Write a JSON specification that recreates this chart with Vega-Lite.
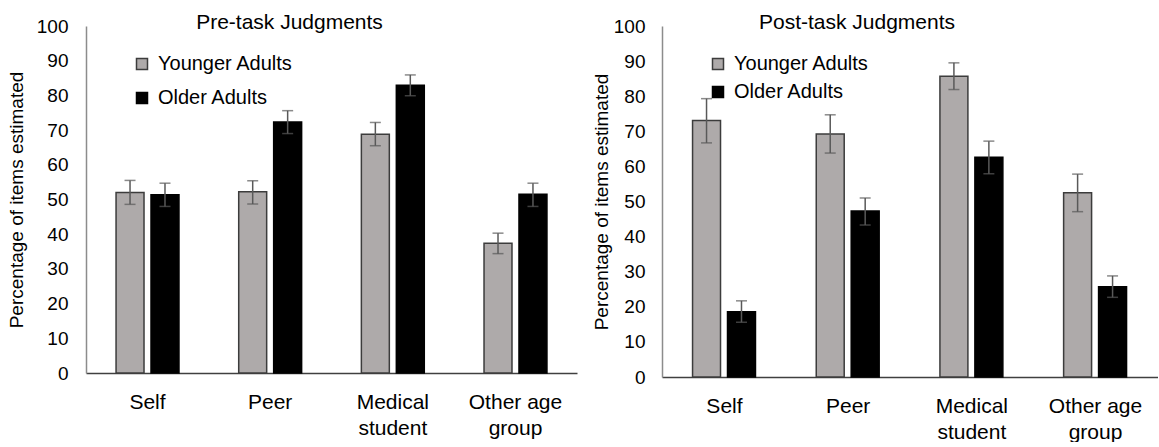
{
  "$schema": "https://vega.github.io/schema/vega-lite/v6.json",
  "padding": {"left": 7, "top": 12, "right": 0, "bottom": 0},
  "spacing": 15,
  "config": {
    "font": "Liberation Sans",
    "view": {"stroke": null},
    "title": {"fontSize": 21, "fontWeight": "normal", "color": "#000000"},
    "axisY": {
      "labelOverlap": false,
      "grid": false,
      "ticks": false,
      "domainColor": "#8c8c8c",
      "domainWidth": 1.5,
      "labelFontSize": 19,
      "labelColor": "#000000",
      "labelPadding": 18,
      "titleFontSize": 19,
      "titleFontWeight": "normal",
      "titleColor": "#000000"
    }
  },
  "data": {
    "values": [
      {"phase": "Pre-task", "target": "Self", "group": "Younger Adults", "value": 52.0, "lo": 48.6, "hi": 55.5},
      {"phase": "Pre-task", "target": "Self", "group": "Older Adults", "value": 51.4, "lo": 48.0, "hi": 54.7},
      {"phase": "Pre-task", "target": "Peer", "group": "Younger Adults", "value": 52.2, "lo": 48.7, "hi": 55.4},
      {"phase": "Pre-task", "target": "Peer", "group": "Older Adults", "value": 72.3, "lo": 69.0, "hi": 75.6},
      {"phase": "Pre-task", "target": "Medical student", "group": "Younger Adults", "value": 68.8, "lo": 65.5, "hi": 72.2},
      {"phase": "Pre-task", "target": "Medical student", "group": "Older Adults", "value": 82.9, "lo": 79.9, "hi": 85.9},
      {"phase": "Pre-task", "target": "Other age group", "group": "Younger Adults", "value": 37.4, "lo": 34.4, "hi": 40.3},
      {"phase": "Pre-task", "target": "Other age group", "group": "Older Adults", "value": 51.5, "lo": 48.0, "hi": 54.7},
      {"phase": "Post-task", "target": "Self", "group": "Younger Adults", "value": 73.1, "lo": 66.7, "hi": 79.3},
      {"phase": "Post-task", "target": "Self", "group": "Older Adults", "value": 18.6, "lo": 15.6, "hi": 21.7},
      {"phase": "Post-task", "target": "Peer", "group": "Younger Adults", "value": 69.2, "lo": 63.8, "hi": 74.7},
      {"phase": "Post-task", "target": "Peer", "group": "Older Adults", "value": 47.3, "lo": 43.3, "hi": 51.0},
      {"phase": "Post-task", "target": "Medical student", "group": "Younger Adults", "value": 85.7, "lo": 81.9, "hi": 89.5},
      {"phase": "Post-task", "target": "Medical student", "group": "Older Adults", "value": 62.6, "lo": 57.9, "hi": 67.2},
      {"phase": "Post-task", "target": "Other age group", "group": "Younger Adults", "value": 52.5, "lo": 47.1, "hi": 57.8},
      {"phase": "Post-task", "target": "Other age group", "group": "Older Adults", "value": 25.7, "lo": 22.7, "hi": 28.8}
    ]
  },
  "resolve": {
    "scale": {"fill": "independent", "stroke": "independent"},
    "legend": {"fill": "independent", "stroke": "independent"}
  },
  "hconcat": [
    {
      "width": 491,
      "height": 347,
      "title": {"text": "Pre-task Judgments", "offset": -16, "dx": -42},
      "transform": [{"filter": "datum.phase == 'Pre-task'"}],
      "resolve": {"axis": {"y": "independent"}},
      "encoding": {
        "x": {
          "field": "target", "type": "nominal",
          "sort": ["Self", "Peer", "Medical student", "Other age group"],
          "scale": {"paddingInner": 0.487, "paddingOuter": 0.245},
          "axis": {
            "title": null, "labelAngle": 0, "ticks": false,
            "domainColor": "#404040", "domainWidth": 1.5,
            "labelFontSize": 21, "labelColor": "#000000", "labelPadding": 18, "labelLineHeight": 26,
            "labelExpr": "datum.label == 'Medical student' ? ['Medical', 'student'] : datum.label == 'Other age group' ? ['Other age', 'group'] : datum.label"
          }
        },
        "xOffset": {
          "field": "group", "type": "nominal",
          "sort": ["Younger Adults", "Older Adults"],
          "scale": {"paddingInner": 0.2, "paddingOuter": 0}
        }
      },
      "layer": [
        {
          "mark": {"type": "bar", "strokeWidth": 1.5},
          "encoding": {
            "y": {
              "field": "value", "type": "quantitative",
              "scale": {"domain": [0, 100], "nice": false},
              "axis": {
                "values": [0, 10, 20, 30, 40, 50, 60, 70, 80, 90, 100], "labelOverlap": false,
                "title": "Percentage of items estimated", "titlePadding": 10
              }
            },
            "fill": {
              "field": "group", "type": "nominal",
              "scale": {"domain": ["Younger Adults", "Older Adults"], "range": ["#aeaaaa", "#000000"]},
              "legend": {
                "title": null, "orient": "none", "legendX": 46, "legendY": 28, "padding": 0,
                "symbolType": "square", "symbolSize": 121, "symbolStrokeWidth": 1.5,
                "labelFontSize": 20, "labelColor": "#000000", "labelOffset": 6, "rowPadding": 14
              }
            },
            "stroke": {
              "field": "group", "type": "nominal",
              "scale": {"domain": ["Younger Adults", "Older Adults"], "range": ["#3c3c3c", "#000000"]},
              "legend": {
                "title": null, "orient": "none", "legendX": 46, "legendY": 28, "padding": 0,
                "symbolType": "square", "symbolSize": 121, "symbolStrokeWidth": 1.5,
                "labelFontSize": 20, "labelColor": "#000000", "labelOffset": 6, "rowPadding": 14
              }
            }
          }
        },
        {
          "mark": {"type": "rule", "color": "#595959", "strokeWidth": 1.5},
          "encoding": {
            "y": {"field": "lo", "type": "quantitative", "axis": null},
            "y2": {"field": "hi"}
          }
        },
        {
          "mark": {"type": "tick", "orient": "horizontal", "color": "#595959", "size": 11, "thickness": 1.5},
          "encoding": {"y": {"field": "hi", "type": "quantitative", "axis": null}}
        },
        {
          "mark": {"type": "tick", "orient": "horizontal", "color": "#595959", "size": 11, "thickness": 1.5},
          "encoding": {"y": {"field": "lo", "type": "quantitative", "axis": null}}
        }
      ]
    },
    {
      "width": 496,
      "height": 351,
      "title": {"text": "Post-task Judgments", "offset": -16, "dx": -53},
      "transform": [{"filter": "datum.phase == 'Post-task'"}],
      "resolve": {"axis": {"y": "independent"}},
      "encoding": {
        "x": {
          "field": "target", "type": "nominal",
          "sort": ["Self", "Peer", "Medical student", "Other age group"],
          "scale": {"paddingInner": 0.484, "paddingOuter": 0.247},
          "axis": {
            "title": null, "labelAngle": 0, "ticks": false,
            "domainColor": "#404040", "domainWidth": 1.5,
            "labelFontSize": 21, "labelColor": "#000000", "labelPadding": 18, "labelLineHeight": 26,
            "labelExpr": "datum.label == 'Medical student' ? ['Medical', 'student'] : datum.label == 'Other age group' ? ['Other age', 'group'] : datum.label"
          }
        },
        "xOffset": {
          "field": "group", "type": "nominal",
          "sort": ["Younger Adults", "Older Adults"],
          "scale": {"paddingInner": 0.2, "paddingOuter": 0}
        }
      },
      "layer": [
        {
          "mark": {"type": "bar", "strokeWidth": 1.5},
          "encoding": {
            "y": {
              "field": "value", "type": "quantitative",
              "scale": {"domain": [0, 100], "nice": false},
              "axis": {
                "values": [0, 10, 20, 30, 40, 50, 60, 70, 80, 90, 100], "labelOverlap": false,
                "labelPadding": 17, "title": "Percentage of items estimated", "titlePadding": 2
              }
            },
            "fill": {
              "field": "group", "type": "nominal",
              "scale": {"domain": ["Younger Adults", "Older Adults"], "range": ["#aeaaaa", "#000000"]},
              "legend": {
                "title": null, "orient": "none", "legendX": 46, "legendY": 28, "padding": 0,
                "symbolType": "square", "symbolSize": 121, "symbolStrokeWidth": 1.5,
                "labelFontSize": 20, "labelColor": "#000000", "labelOffset": 6, "rowPadding": 8
              }
            },
            "stroke": {
              "field": "group", "type": "nominal",
              "scale": {"domain": ["Younger Adults", "Older Adults"], "range": ["#3c3c3c", "#000000"]},
              "legend": {
                "title": null, "orient": "none", "legendX": 46, "legendY": 28, "padding": 0,
                "symbolType": "square", "symbolSize": 121, "symbolStrokeWidth": 1.5,
                "labelFontSize": 20, "labelColor": "#000000", "labelOffset": 6, "rowPadding": 8
              }
            }
          }
        },
        {
          "mark": {"type": "rule", "color": "#595959", "strokeWidth": 1.5},
          "encoding": {
            "y": {"field": "lo", "type": "quantitative", "axis": null},
            "y2": {"field": "hi"}
          }
        },
        {
          "mark": {"type": "tick", "orient": "horizontal", "color": "#595959", "size": 11, "thickness": 1.5},
          "encoding": {"y": {"field": "hi", "type": "quantitative", "axis": null}}
        },
        {
          "mark": {"type": "tick", "orient": "horizontal", "color": "#595959", "size": 11, "thickness": 1.5},
          "encoding": {"y": {"field": "lo", "type": "quantitative", "axis": null}}
        }
      ]
    }
  ]
}
